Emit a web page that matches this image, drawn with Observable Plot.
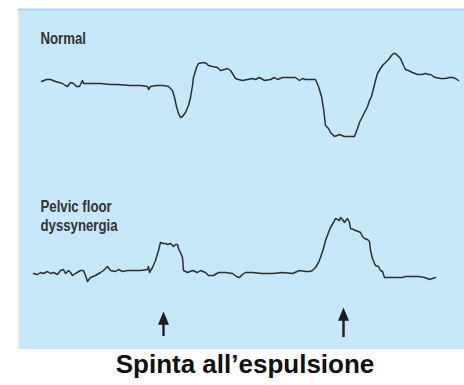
<!DOCTYPE html>
<html>
<head>
<meta charset="utf-8">
<script src="https://cdn.jsdelivr.net/npm/d3@7"></script>
<script src="https://cdn.jsdelivr.net/npm/@observablehq/plot@0.6"></script>
<style>
  html, body { margin: 0; padding: 0; background: #fff; }
  #wrap { width: 464px; }
  #caption {
    width: 438px;
    padding-left: 26px;
    text-align: center;
    font-family: "Liberation Sans", Arial, sans-serif;
    font-weight: bold;
    font-size: 26px;
    line-height: 29px;
    color: #111;
    margin-top: 1px;
  }
</style>
</head>
<body>
<div id="wrap">
  <div id="chart"></div>
  <div id="caption">Spinta all’espulsione</div>
</div>
<script>
// Anorectal manometry traces (time in arbitrary units, pressure in arbitrary units)
const normalTime = [23,28,32,37,44,47,49,52,55,58,61,63,64,65,69,75,82,92,99,112,122,129,130,132,138,142,145,150,154,156,158,160,162,164,167,170,172,174,175,178,180,185,188,190,194,199,202,206,209,212,214,217,220,224,229,234,237,241,246,252,256,259,264,272,277,281,284,287,292,297,300,303,305,307,310,312,316,321,326,332,336,339,341,344,346,349,351,353,355,357,359,362,364,367,370,373,375,377,379,382,385,387,390,394,399,403,407,410,412,415,417,422,427,431,434,437,440];
const normalPressure = [268,270,270,268,266,264,263,267,266,263,263,267,269,266,266,266,266,265,265,264,264,263,260,263,264,264,264,263,259,252,243,236,232,233,237,244,252,264,272,282,286,287,286,284,283,282,279,280,281,279,276,271,270,269,270,271,270,272,269,270,272,270,272,272,272,269,271,270,270,270,263,253,241,224,221,217,213,215,213,213,213,221,227,233,237,243,249,253,261,269,276,281,284,287,290,294,296,296,294,291,284,280,279,277,275,275,276,275,275,273,272,271,271,272,272,271,269];

const dyssTime = [15,19,22,25,29,32,35,39,42,45,47,50,52,54,57,62,65,67,69,72,77,82,85,89,92,97,100,104,109,117,122,129,130,131,134,137,140,142,145,147,149,152,155,157,159,160,162,164,165,169,174,179,182,187,190,195,200,207,214,218,221,224,227,234,244,254,264,274,281,287,291,294,297,300,302,305,307,310,312,315,317,319,321,322,324,326,328,329,331,332,335,337,340,342,344,346,349,351,352,354,356,357,360,362,364,366,372,377,384,387,392,400,406,409,411,414,417];
const dyssPressure = [76,75,77,76,78,76,77,75,79,80,76,79,77,74,76,79,79,74,68,72,74,77,79,83,79,78,80,78,79,79,79,80,83,77,82,89,99,107,106,106,105,106,103,105,105,101,97,92,79,77,79,77,79,77,74,74,77,77,76,73,72,75,77,77,76,76,77,76,79,78,78,79,82,87,92,101,109,117,122,127,131,130,129,132,130,127,130,131,127,121,120,119,118,117,113,111,110,108,99,91,86,84,83,79,78,72,72,72,72,73,73,73,72,71,70,71,72];

// Straining (push) markers
const pushTime = [145, 325];
const pushTip = [38, 42];
const pushBase = [13, 12];

const traceLabels = ["Normal", "Pelvic floor\ndyssynergia"];

const normal = normalTime.map((t, i) => ({t, p: normalPressure[i]}));
const dyss = dyssTime.map((t, i) => ({t, p: dyssPressure[i]}));
const pushes = pushTime.map((t, i) => ({t, tip: pushTip[i], base: pushBase[i]}));

// Filled arrowhead with its tip at the anchor point
const arrowHead = {
  draw(ctx, size) {
    const r = Math.sqrt(size / Math.PI);
    const w = r * 0.92, h = r * 2.2;
    ctx.moveTo(0, 0);
    ctx.lineTo(w, h);
    ctx.lineTo(-w, h);
    ctx.closePath();
  }
};

const ink = "#2e2e2e";
const labelFont = "'Liberation Sans', Arial, sans-serif";

const chart = Plot.plot({
  width: 464,
  height: 349,
  marginLeft: 18,
  marginTop: 9,
  marginRight: 0,
  marginBottom: 0,
  x: {domain: [0, 446], axis: null},
  y: {domain: [0, 340], axis: null},
  marks: [
    Plot.frame({fill: "#c6e8f8", stroke: null}),
    Plot.ruleY([340], {stroke: "#a6d6f1", strokeWidth: 2}),
    Plot.line(normal, {x: "t", y: "p", stroke: ink, strokeWidth: 1.5, curve: "linear"}),
    Plot.line(dyss, {x: "t", y: "p", stroke: ink, strokeWidth: 1.5, curve: "linear"}),
    Plot.ruleX(pushes, {x: "t", y1: "base", y2: d => d.tip - 10, stroke: "#1e1e1e", strokeWidth: 2.4}),
    Plot.dot(pushes, {x: "t", y: "tip", symbol: arrowHead, r: 6, fill: "#1e1e1e", stroke: null}),
    Plot.text([traceLabels[0]], {
      frameAnchor: "top-left", dx: 22, dy: 23, lineAnchor: "top", textAnchor: "start",
      fontFamily: labelFont, fontWeight: "bold", fontSize: 16.5, fill: "#333", className: "label"
    }),
    Plot.text([traceLabels[1]], {
      frameAnchor: "top-left", dx: 22, dy: 190, lineAnchor: "top", textAnchor: "start",
      lineHeight: 1.1,
      fontFamily: labelFont, fontWeight: "bold", fontSize: 16.5, fill: "#333", className: "label"
    })
  ]
});

// Condensed look for the trace labels: squeeze the glyphs horizontally
chart.querySelectorAll(".label text").forEach(t => {
  t.setAttribute("transform", (t.getAttribute("transform") || "") + " scale(0.8,1)");
});

document.getElementById("chart").appendChild(chart);
</script>
</body>
</html>
